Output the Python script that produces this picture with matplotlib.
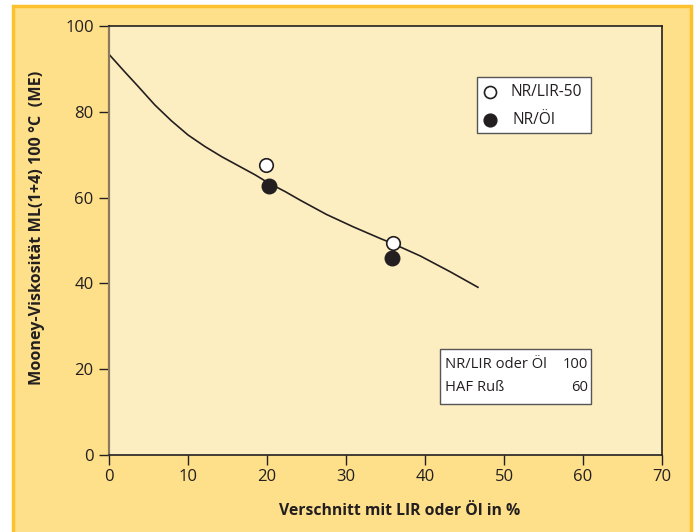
import matplotlib
matplotlib.use("Agg")
import matplotlib.pyplot as plt
from matplotlib.patches import Rectangle

# Data
curve_x = [0, 2.0, 3.7, 5.8, 7.9, 10.0, 12.15, 14.3, 16.4, 18.5, 20.2, 22.3, 24.2, 27.5,
           30.9, 34.3, 35.9, 39.4, 43.2, 46.7]
curve_y = [93.4, 89.3, 85.9, 81.6, 77.9, 74.6, 71.9, 69.5, 67.4, 65.3, 63.4, 61.4, 59.4, 56.1,
           53.2, 50.5, 49.3, 46.4, 42.7, 39.1]
lir_x = [19.9, 35.9]
lir_y = [67.6, 49.5]
oel_x = [20.3, 35.8]
oel_y = [62.8, 45.9]
x_ticks = [0, 10, 20, 30, 40, 50, 60, 70]
y_ticks = [0, 20, 40, 60, 80, 100]

plt.rcParams['font.family'] = ['Open Sans', 'DejaVu Sans']

W, H = 700, 532
fig = plt.figure(figsize=(W/100, H/100), dpi=100, facecolor='white')

# outer panel
fig.patches.append(Rectangle((13/W, -0.05), (691-13)/W, 1.05 - 6/H, transform=fig.transFigure,
                             facecolor='#fee08a', edgecolor='#fcc12c', linewidth=2.5, zorder=-1))

ax = fig.add_axes([109/W, 1-455/H, (662-109)/W, (455-26)/H])
ax.set_zorder(1)
ax.set_facecolor('#fdeec2')
ax.set_xlim(0, 70)
ax.set_ylim(0, 100)

ax.plot(curve_x, curve_y, color='#231f20', lw=1.2, zorder=2, solid_joinstyle='round')
ax.scatter(lir_x, lir_y, s=95, facecolor='white', edgecolor='#231f20', linewidths=1.2, zorder=3)
ax.scatter(oel_x, oel_y, s=110, facecolor='#231f20', edgecolor='#231f20', linewidths=1.0, zorder=3)

ax.set_xticks(x_ticks)
ax.set_yticks(y_ticks)
ax.tick_params(direction='out', length=7, width=1, color='#231f20', labelsize=12,
               labelcolor='#231f20')
ax.tick_params(axis='y', pad=4)
ax.tick_params(axis='x', pad=3)
for s in ['top', 'right', 'bottom']:
    ax.spines[s].set_color('#231f20')
    ax.spines[s].set_linewidth(1.2)
ax.spines['left'].set_color('#8a7a5c')
ax.spines['left'].set_linewidth(1.6)

fig.text(400/W, 1-511/H, 'Verschnitt mit LIR oder Öl in %', ha='center', va='center',
         fontsize=11.3, fontweight='bold', color='#231f20')
fig.text(37/W, 1-228/H, 'Mooney-Viskosität ML(1+4) 100 °C  (ME)', ha='center', va='center',
         rotation=90, fontsize=11.6, fontweight='bold', color='#231f20')

ft = fig.transFigure
# legend box
ax.add_patch(Rectangle((477/W, 1-133/H), (591-477)/W, (133-77)/H, transform=ft, clip_on=False,
                       facecolor='white', edgecolor='#555555', linewidth=1.0, zorder=5))
ax.scatter([(490-109)/553*70], [(455-92)/429*100], s=75, facecolor='white', edgecolor='#231f20',
           linewidths=1.2, zorder=6, clip_on=False)
ax.scatter([(490-109)/553*70], [(455-119.5)/429*100], s=85, facecolor='#231f20', edgecolor='#231f20',
           zorder=6, clip_on=False)
ax.text(511/W, 1-92/H, 'NR/LIR-50', transform=ft, ha='left', va='center', fontsize=11.2, color='#231f20', zorder=7)
ax.text(513/W, 1-119.5/H, 'NR/Öl', transform=ft, ha='left', va='center', fontsize=11.2, color='#231f20', zorder=7)

# recipe box
ax.add_patch(Rectangle((439.5/W, 1-404/H), (591-439.5)/W, (404-348.5)/H, transform=ft, clip_on=False,
                       facecolor='white', edgecolor='#555555', linewidth=1.0, zorder=5))
ax.text(445/W, 1-364.5/H, 'NR/LIR oder Öl', transform=ft, ha='left', va='center', fontsize=10.6, color='#231f20', zorder=7)
ax.text(445/W, 1-387.5/H, 'HAF Ruß', transform=ft, ha='left', va='center', fontsize=10.6, color='#231f20', zorder=7)
ax.text(588/W, 1-364.5/H, '100', transform=ft, ha='right', va='center', fontsize=10.6, color='#231f20', zorder=7)
ax.text(588/W, 1-387.5/H, '60', transform=ft, ha='right', va='center', fontsize=10.6, color='#231f20', zorder=7)

fig.savefig('out.png', dpi=100, facecolor='white')
